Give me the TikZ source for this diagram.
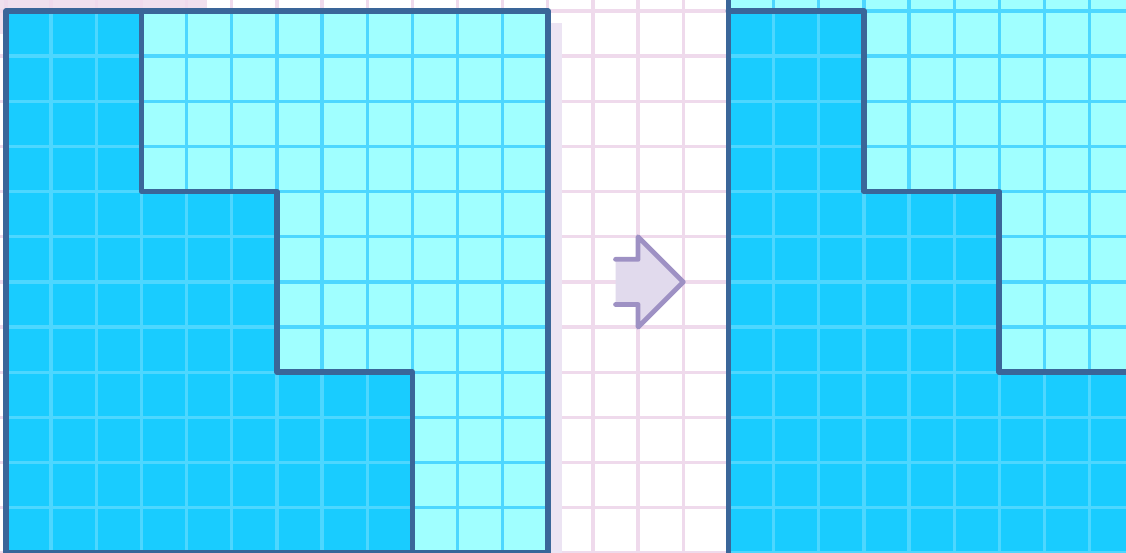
\documentclass[tikz,border=0pt]{standalone}
\usepackage{tikz}
\usetikzlibrary{calc}
\definecolor{paperline}{RGB}{239,218,236}
\definecolor{shadowtint}{RGB}{236,228,243}
\definecolor{patch}{RGB}{240,224,238}
\definecolor{deepcell}{RGB}{25,204,255}
\definecolor{palecell}{RGB}{160,255,255}
\definecolor{cellline}{RGB}{77,215,255}
\definecolor{rim}{RGB}{58,102,153}
\definecolor{arrowfill}{RGB}{225,218,237}
\definecolor{arrowrim}{RGB}{158,145,196}
\tikzset{
  paper/.style={paperline,line width=2.1pt},
  cellgrid/.style={cellline,line width=2.1pt},
  rimline/.style={rim,line width=3.6pt,line join=round,line cap=round}
}
\begin{document}
\begin{tikzpicture}
  \clip (-0.133,-11.982) rectangle (24.806,0.244);
  \fill[white] (-0.133,-11.982) rectangle (24.806,0.244);
  \fill[patch] (-0.5,-0.5) rectangle (4.45,0.5);
  \draw[paper] (-1,-13) grid (26,1);
  % left square
  \fill[shadowtint] (0.31,-0.27) rectangle (12.31,-12.27);
  \fill[palecell] (0,0) rectangle (12,-12);
  \fill[deepcell] (0,0) -- (3,0) -- (3,-4) -- (6,-4) -- (6,-8) -- (9,-8) -- (9,-12) -- (0,-12) -- cycle;
  \draw[cellgrid] (0,-12) grid (12,0);
  \draw[rimline] (0,0) rectangle (12,-12);
  \draw[rimline] (3,0) -- (3,-4) -- (6,-4) -- (6,-8) -- (9,-8) -- (9,-12);
  % arrow
  \coordinate (tailT) at (13.5,-5.5);
  \coordinate (tailB) at (13.5,-6.5);
  \coordinate (tip) at (15,-6);
  \fill[arrowfill] (tailT) -- (14,-5.5) -- (14,-5) -- (tip) -- (14,-7) -- (14,-6.5) -- (tailB) -- cycle;
  \draw[arrowrim,line width=3pt,line join=round,line cap=round] (tailT) -- (14,-5.5) -- (14,-5) -- (tip) -- (14,-7) -- (14,-6.5) -- (tailB);
  % right square
  \fill[palecell] (16,1) rectangle (28,-13);
  \fill[deepcell] (16,0) -- (19,0) -- (19,-4) -- (22,-4) -- (22,-8) -- (28,-8) -- (28,-13) -- (16,-13) -- cycle;
  \draw[cellgrid] (16,-13) grid (28,1);
  \draw[rimline] (16,1) -- (16,-13);
  \draw[rimline] (16,0) -- (19,0) -- (19,-4) -- (22,-4) -- (22,-8) -- (28,-8);
\end{tikzpicture}
\end{document}
